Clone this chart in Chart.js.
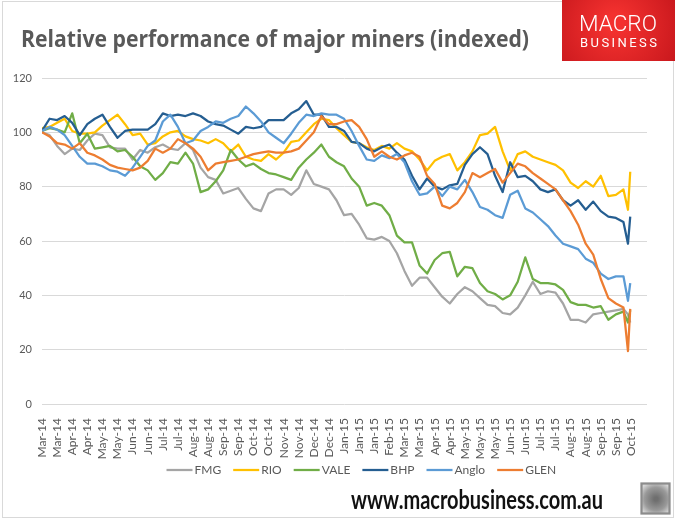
<!DOCTYPE html>
<html>
<head>
<meta charset="utf-8">
<title>Relative performance of major miners (indexed)</title>
<script src="https://cdn.jsdelivr.net/npm/chart.js@4.4.1/dist/chart.umd.min.js"></script>
<style>
  html, body { margin: 0; padding: 0; background: #fff; }
  canvas { display: block; }
</style>
</head>
<body>
<canvas id="chart" width="675" height="519"></canvas>
<script>
// date labels on the horizontal axis, one per major tick
const tickLabels = [
  "Mar-14", "Mar-14", "Apr-14", "Apr-14", "May-14", "May-14", "Jun-14", "Jun-14", "Jul-14", "Jul-14",
  "Aug-14", "Aug-14", "Sep-14", "Sep-14", "Oct-14", "Oct-14", "Nov-14", "Nov-14", "Dec-14", "Dec-14",
  "Jan-15", "Jan-15", "Jan-15", "Feb-15", "Mar-15", "Mar-15", "Apr-15", "Apr-15", "May-15", "May-15",
  "May-15", "Jun-15", "Jun-15", "Jul-15", "Jul-15", "Aug-15", "Aug-15", "Sep-15", "Sep-15", "Oct-15"
];

// readings every half tick, then the last two trading days
const readingsPerTick = 2;
const tailTimes = [38.8, 38.95];

const FMG = [
  100, 99, 95, 92, 94, 93.5, 97, 99.5, 99, 94.5,
  94, 94, 90, 93.5, 92.5, 94.5, 95.5, 94, 93.5, 96,
  93.5, 87, 83.5, 82.5, 77.5, 78.5, 79.5, 75.5, 72, 71,
  77.5, 79, 79, 77, 79.5, 86, 81, 80, 79, 75,
  69.5, 70, 66, 61, 60.5, 61.5, 60, 55.5, 49, 43.5,
  46.5, 46.5, 43, 39.5, 37, 40.5, 43, 41.5, 39, 36.5,
  36, 33.5, 33, 35.5, 40, 45, 40.5, 41.5, 41, 37,
  31, 31, 30, 33, 33.5, 34, 34.5, 35,
  33, 30
];

const RIO = [
  101.5, 102, 103.5, 105, 100.5, 99.5, 99.5, 100, 102.5, 104.5,
  106.5, 103, 99, 99.5, 95.5, 96, 98.5, 100, 100.5, 98.5,
  97.5, 97, 96, 97.5, 96, 93, 95.5, 91, 90, 89.5,
  92, 90, 92.5, 96.5, 97, 100, 103, 105, 104.5, 101.5,
  99, 96.5, 96, 94.5, 93.5, 95, 94, 96, 94, 93,
  90, 86, 89.5, 91, 92, 86, 89, 93, 99, 99.5,
  102, 93, 86, 92, 93, 91, 90, 89, 88, 86,
  81.5, 79.5, 82, 80, 84, 76.5, 77, 79,
  71.5, 85.5
];

const VALE = [
  100.5, 101.5, 101, 100, 107, 96, 99.5, 94, 94.5, 95,
  93, 93.5, 91, 87.5, 86, 82.5, 85, 89, 88.5, 92.5,
  88.5, 78, 79, 82, 86, 93.5, 90, 87.5, 88.5, 86.5,
  85, 84.5, 83.5, 82.5, 87, 90, 92.5, 95.5, 91, 89,
  87.5, 83, 80, 73, 74, 73, 69.5, 62, 59.5, 59.5,
  51, 48, 53, 55.5, 56, 47, 50.5, 50, 44.5, 41.5,
  40.5, 38.5, 40, 45, 54, 46, 44.5, 44.5, 44, 42,
  37.5, 36.5, 36.5, 35.5, 36, 31, 33, 34,
  30, 34.5
];

const BHP = [
  100.5, 105, 104.5, 106, 103.5, 99, 103, 105, 106.5, 102,
  98, 100.5, 101, 101, 101, 103, 107, 106, 106.5, 106,
  107, 106, 104, 103, 102.5, 101, 99.5, 102, 101.5, 102,
  104.5, 104.5, 104.5, 107, 108.5, 111.5, 106.5, 106.5, 102, 102,
  100.5, 96.5, 96, 94, 93, 94.5, 95.5, 92.5, 90, 84,
  79, 83, 80, 79, 80.5, 81, 88, 92, 94.5, 92,
  84, 78, 89, 83.5, 84, 82, 79, 78, 79, 75,
  73, 75, 71.5, 74.5, 71, 69, 68.5, 67,
  59, 69
];

const Anglo = [
  100.5, 102, 101, 99, 95, 91, 88.5, 88.5, 87.5, 86,
  85.5, 84, 87, 91, 95, 97, 104, 106.5, 102, 96,
  97, 100.5, 102, 104, 103.5, 105, 106, 109.5, 107, 104,
  100, 98, 96, 99.5, 103.5, 106.5, 106, 107, 106.5, 106.5,
  105, 100.5, 95, 90, 89.5, 91.5, 90.5, 92, 89, 82,
  77, 77.5, 80, 76.5, 80, 79, 82.5, 78, 72.5, 71.5,
  69.5, 68.5, 77, 78.5, 72, 70.5, 68, 65.5, 62, 59,
  58, 57, 53.5, 52, 48, 46, 47, 47,
  38, 44.5
];

const GLEN = [
  100, 98.5, 96, 95.5, 94, 96, 92.5, 91.5, 90, 88,
  87, 86.5, 86, 87, 89.5, 94, 92.5, 94, 97.5, 96,
  94, 91, 86, 88.5, 89, 89.5, 90, 91, 92, 92.5,
  93, 92.5, 92.5, 93, 94, 97, 100, 106, 103, 103,
  104, 104.5, 102, 97.5, 91, 93, 91, 90, 91.5, 92.5,
  91, 84, 81, 73, 72, 74, 78, 85, 83.5, 85,
  86.5, 81.5, 85, 88.5, 87.5, 85, 83, 81, 79, 75,
  71, 66, 59, 55, 46, 39, 37, 35.5,
  19.5, 35
];

const seriesNames = ["FMG", "RIO", "VALE", "BHP", "Anglo", "GLEN"];
const seriesValues = [FMG, RIO, VALE, BHP, Anglo, GLEN];
const seriesColors = ["#a5a5a5", "#ffc000", "#70ad47", "#255e91", "#5b9bd5", "#ed7d31"];

const regularCount = FMG.length - tailTimes.length;
const sampleTimes = FMG.map((_, i) =>
  i < regularCount ? i / readingsPerTick : tailTimes[i - regularCount]
);

const textGrey = "#595959";
const labelFont = "Lato, 'Open Sans', sans-serif";

// draws a string squeezed to an exact width
function fitText(ctx, text, x, y, width, font) {
  ctx.font = font;
  const w = ctx.measureText(text).width;
  ctx.save();
  ctx.translate(x, y);
  ctx.scale(width / w, 1);
  ctx.fillText(text, 0, 0);
  ctx.restore();
}

const decorations = {
  id: "decorations",
  afterDraw(chart) {
    const ctx = chart.ctx;
    ctx.save();

    // outer frame
    ctx.strokeStyle = "#d9d9d9";
    ctx.lineWidth = 1;
    ctx.strokeRect(2.5, 1.5, 671, 516);

    // title
    ctx.fillStyle = textGrey;
    ctx.textBaseline = "alphabetic";
    ctx.textAlign = "left";
    fitText(ctx, "Relative performance of major miners (indexed)", 21, 47, 508, "bold 23px 'Open Sans'");

    // logo
    const grad = ctx.createRadialGradient(615, 22, 8, 615, 30, 75);
    grad.addColorStop(0, "#f3312f");
    grad.addColorStop(1, "#c4151b");
    ctx.fillStyle = grad;
    ctx.fillRect(562, 0, 113, 61);
    ctx.fillStyle = "#fff";
    fitText(ctx, "MACRO", 579, 31, 78, "300 22px Roboto");
    ctx.font = "13px Roboto";
    const word = "BUSINESS";
    const letters = word.split("").map(c => ctx.measureText(c).width);
    const spacing = (77 - letters.reduce((a, b) => a + b, 0)) / (word.length - 1);
    let lx = 580;
    word.split("").forEach((c, i) => {
      ctx.fillText(c, lx, 47);
      lx += letters[i] + spacing;
    });

    // legend
    const lineLen = 26, gap = 2, itemGap = 12;
    ctx.font = "12px " + labelFont;
    let x = 166.5;
    const ly = 470;
    ctx.textBaseline = "middle";
    chart.data.datasets.forEach(ds => {
      ctx.strokeStyle = ds.borderColor;
      ctx.lineWidth = 2.25;
      ctx.beginPath();
      ctx.moveTo(x, ly);
      ctx.lineTo(x + lineLen, ly);
      ctx.stroke();
      ctx.fillStyle = textGrey;
      ctx.fillText(ds.label, x + lineLen + gap, ly);
      x += lineLen + gap + ctx.measureText(ds.label).width + itemGap;
    });

    // site address
    ctx.textBaseline = "alphabetic";
    ctx.fillStyle = "#111";
    fitText(ctx, "www.macrobusiness.com.au", 351, 509, 252, "bold 26px " + labelFont);

    // wolf badge
    const wolf = ctx.createRadialGradient(656, 499, 2, 656, 499, 18);
    wolf.addColorStop(0, "#6f6f6f");
    wolf.addColorStop(0.6, "#9a9a9a");
    wolf.addColorStop(1, "#d8d8d8");
    ctx.fillStyle = wolf;
    ctx.fillRect(641, 483, 29, 31);
    ctx.strokeStyle = "#8c8c8c";
    ctx.strokeRect(641.5, 483.5, 28, 30);

    ctx.restore();
  }
};

new Chart(document.getElementById("chart"), {
  type: "line",
  data: {
    datasets: seriesNames.map((name, i) => ({
      label: name,
      data: seriesValues[i].map((v, j) => ({ x: sampleTimes[j], y: v })),
      borderColor: seriesColors[i],
      backgroundColor: seriesColors[i],
      borderWidth: 2.25,
      pointRadius: 0,
      tension: 0,
      borderJoinStyle: "round",
      order: seriesNames.length - i
    }))
  },
  options: {
    responsive: false,
    animation: false,
    devicePixelRatio: 1,
    layout: { padding: { left: 0, top: 78, right: 28, bottom: 55 } },
    plugins: {
      legend: { display: false },
      tooltip: { enabled: false },
      title: { display: false }
    },
    scales: {
      x: {
        type: "linear",
        min: 0,
        max: 40.06,
        afterBuildTicks: scale => {
          scale.ticks = tickLabels.map((_, i) => ({ value: i }));
        },
        afterFit: scale => { scale.height = 60; },
        grid: { display: false },
        border: { display: false },
        ticks: {
          autoSkip: false,
          minRotation: 90,
          maxRotation: 90,
          padding: 6,
          color: textGrey,
          font: { family: labelFont, size: 12 },
          callback: value => tickLabels[value]
        }
      },
      y: {
        min: 0,
        max: 120,
        afterFit: scale => { scale.width = 42; },
        grid: { color: "#d9d9d9", lineWidth: 1, drawTicks: false },
        border: { display: false },
        ticks: {
          stepSize: 20,
          padding: 10,
          color: textGrey,
          font: { family: labelFont, size: 11 }
        }
      }
    }
  },
  plugins: [decorations]
});
</script>
</body>
</html>
